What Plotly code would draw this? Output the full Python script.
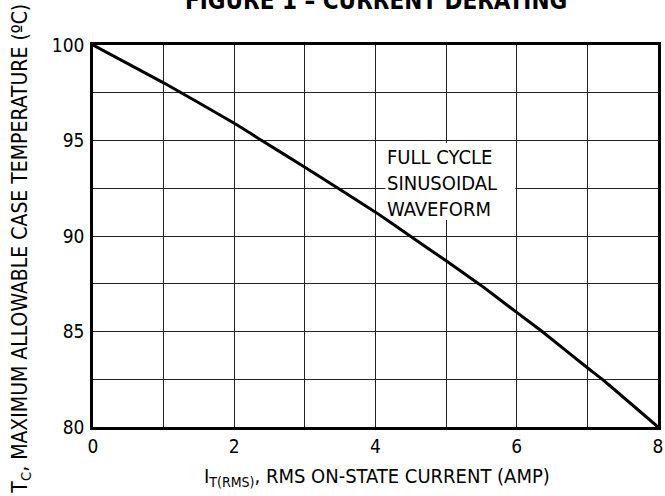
import plotly.graph_objects as go

# Data
current_amp = [0, 1, 2, 2.39, 3, 3.47, 4, 4.49, 5, 5.5, 6, 6.36, 7, 7.21, 8]
case_temp_c = [100, 98.02, 95.9, 95.0, 93.6, 92.5, 91.25, 90.0, 88.7, 87.4, 86.0, 85.0, 83.1, 82.5, 80]

x_ticks = [0, 2, 4, 6, 8]
y_ticks = [80, 85, 90, 95, 100]

FONT = "DejaVu Sans Condensed, Liberation Sans, sans-serif"

fig = go.Figure()
fig.add_trace(go.Scatter(
    x=current_amp, y=case_temp_c, mode="lines",
    line=dict(color="black", width=3, shape="spline", smoothing=0.4),
    showlegend=False, hoverinfo="skip",
))

W, H = 665, 496
L, R, T, B = 93, 2, 45, 69
PW, PH = W - L - R, H - T - B
X0, X1, Y0, Y1 = 0, 8, 80, 100

def px(xp):
    return (xp - L) / PW

def py(yp):
    return (H - B - yp) / PH

def dx(xp):
    return X0 + px(xp) * (X1 - X0)

def dy(yp):
    return Y0 + py(yp) * (Y1 - Y0)

grid_col = "#222222"
fig.update_layout(
    width=W, height=H,
    margin=dict(l=L, r=R, t=T, b=B),
    paper_bgcolor="white", plot_bgcolor="white",
    font=dict(family=FONT, size=19, color="black"),
    xaxis=dict(
        range=[X0, X1], tickvals=x_ticks, ticktext=[str(v) for v in x_ticks],
        showgrid=True, gridcolor=grid_col, gridwidth=1.3,
        minor=dict(dtick=1, showgrid=True, gridcolor=grid_col, gridwidth=1.3),
        showline=True, linecolor="black", linewidth=2.5, mirror=True,
        zeroline=False, ticks="", ticklabelstandoff=0, ticklabeloverflow="allow",
        tickfont=dict(family=FONT, size=19),
    ),
    yaxis=dict(
        range=[Y0, Y1], tickvals=y_ticks, ticktext=[str(v) for v in y_ticks],
        showgrid=True, gridcolor=grid_col, gridwidth=1.3,
        minor=dict(dtick=2.5, showgrid=True, gridcolor=grid_col, gridwidth=1.3),
        showline=True, linecolor="black", linewidth=2.5, mirror=True,
        zeroline=False, ticks="", ticklabelstandoff=2, ticklabeloverflow="allow",
        tickfont=dict(family=FONT, size=19),
    ),
    shapes=[
        dict(type="rect", xref="x", yref="y", layer="between",
             x0=dx(388), x1=dx(519), y0=dy(220), y1=dy(143),
             fillcolor="white", line=dict(width=0)),
    ],
    annotations=[
        dict(text="<b>FIGURE 1 – CURRENT DERATING</b>", xref="paper", yref="paper",
             x=0.5, y=py(1), xanchor="center", yanchor="middle", showarrow=False,
             font=dict(family=FONT, size=24)),
        dict(text="I<sub>T(RMS)</sub>, RMS ON-STATE CURRENT (AMP)", xref="paper", yref="paper",
             x=px(380), y=py(477), xanchor="center", yanchor="middle", showarrow=False,
             font=dict(family=FONT, size=20)),
        dict(text="T<sub>C</sub>, MAXIMUM ALLOWABLE CASE TEMPERATURE (ºC)", xref="paper", yref="paper",
             x=px(20), y=py(249), xanchor="center", yanchor="middle", textangle=-90,
             showarrow=False, font=dict(family=FONT, size=21)),
        dict(text="FULL CYCLE<br>SINUSOIDAL<br>WAVEFORM", xref="paper", yref="paper",
             x=px(388), y=py(143), xanchor="left", yanchor="top", align="left",
             width=126, showarrow=False, borderpad=1,
             font=dict(family=FONT, size=20)),
    ],
)

fig.write_html("out.html", config={"displayModeBar": False},
               post_script="document.body.style.margin='0';")
